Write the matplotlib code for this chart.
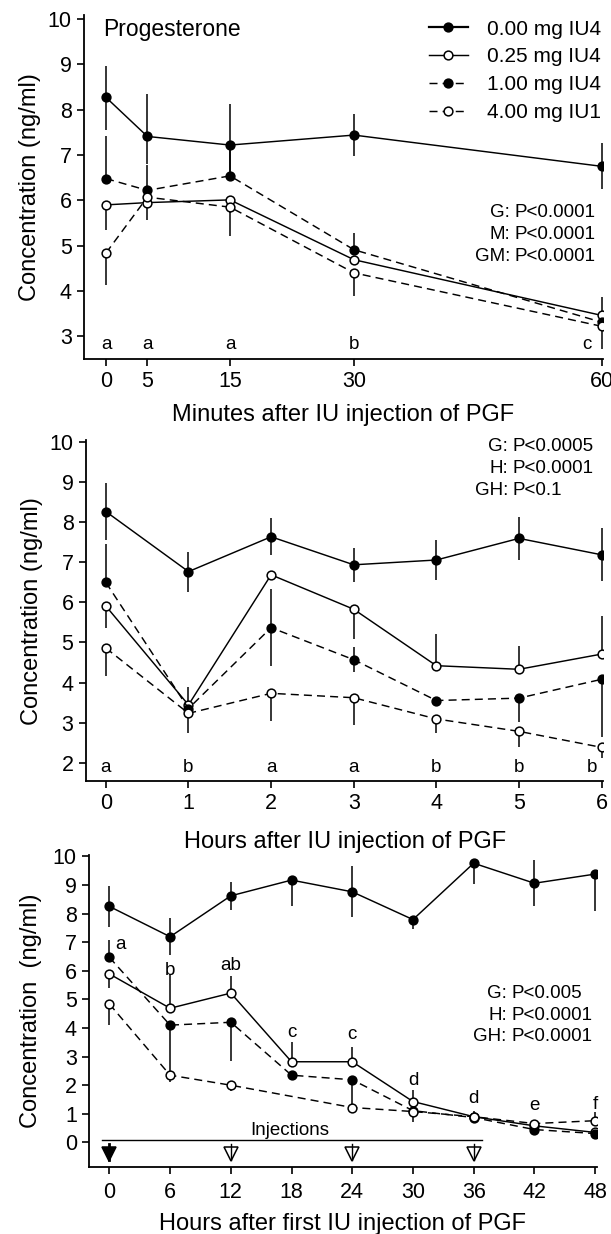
import numpy as np
import matplotlib
matplotlib.use("Agg")
import matplotlib.pyplot as plt
from matplotlib.lines import Line2D

plt.rcParams['font.family'] = ['Liberation Sans', 'DejaVu Sans']

# ---- data: panel 1 (minutes) ----
min_x = [0, 5, 15, 30, 60]
min_mg000 = [8.27, 7.41, 7.22, 7.44, 6.75]
min_mg000_lo = [0.72, 0.60, 0.70, 0.46, 0.51]
min_mg000_hi = [0.70, 0.93, 0.91, 0.46, 0.51]
min_mg025 = [5.90, 5.95, 6.01, 4.69, 3.46]
min_mg025_lo = [0.55, 0.38, 0.30, 0.0, 0.0]
min_mg025_hi = [0.0, 0.0, 0.0, 0.0, 0.40]
min_mg100 = [6.48, 6.22, 6.54, 4.91, 3.31]
min_mg100_lo = [0.0, 0.0, 0.0, 0.0, 0.0]
min_mg100_hi = [0.93, 0.55, 0.70, 0.37, 0.0]
min_mg400 = [4.84, 6.07, 5.85, 4.40, 3.22]
min_mg400_lo = [0.70, 0.0, 0.64, 0.52, 0.50]
min_mg400_hi = [0.0, 0.0, 0.0, 0.0, 0.0]
min_letters = ['a', 'a', 'a', 'b', 'c']

# ---- data: panel 2 (hours) ----
hr_x = [0, 1, 2, 3, 4, 5, 6]
hr_mg000 = [8.27, 6.77, 7.64, 6.94, 7.06, 7.60, 7.19]
hr_mg000_lo = [0.72, 0.50, 0.46, 0.42, 0.50, 0.54, 0.66]
hr_mg000_hi = [0.72, 0.50, 0.46, 0.42, 0.50, 0.54, 0.66]
hr_mg025 = [5.91, 3.44, 6.69, 5.83, 4.42, 4.33, 4.71]
hr_mg025_lo = [0.55, 0.0, 0.0, 0.75, 0.0, 0.0, 0.0]
hr_mg025_hi = [0.0, 0.45, 0.0, 0.0, 0.80, 0.58, 0.95]
hr_mg100 = [6.50, 3.35, 5.37, 4.57, 3.55, 3.61, 4.08]
hr_mg100_lo = [0.0, 0.0, 0.97, 0.31, 0.0, 0.60, 1.45]
hr_mg100_hi = [0.95, 0.0, 0.97, 0.31, 0.0, 0.0, 0.0]
hr_mg400 = [4.86, 3.23, 3.73, 3.62, 3.09, 2.78, 2.38]
hr_mg400_lo = [0.70, 0.50, 0.70, 0.68, 0.36, 0.38, 0.27]
hr_mg400_hi = [0.0, 0.0, 0.0, 0.0, 0.0, 0.0, 0.0]
hr_letters = ['a', 'b', 'a', 'a', 'b', 'b', 'b']

# ---- data: panel 3 (hours after first injection) ----
h48_x = [0, 6, 12, 18, 24, 30, 36, 42, 48]
h48_mg000 = [8.25, 7.19, 8.62, 9.17, 8.76, 7.79, 9.76, 9.06, 9.38]
h48_mg000_lo = [0.72, 0.64, 0.50, 0.90, 0.89, 0.33, 0.73, 0.80, 1.28]
h48_mg000_hi = [0.72, 0.64, 0.50, 0.0, 0.89, 0.0, 0.0, 0.80, 0.0]
h48_mg025 = [5.89, 4.69, 5.22, 2.82, 2.82, 1.43, 0.90, 0.58, 0.35]
h48_mg025_lo = [0.50, 0.0, 0.0, 0.0, 0.0, 0.0, 0.0, 0.0, 0.0]
h48_mg025_hi = [0.0, 1.20, 0.60, 0.68, 0.50, 0.40, 0.20, 0.0, 0.0]
h48_mg100 = [6.47, 4.10, 4.20, 2.35, 2.19, 1.11, 0.87, 0.45, 0.31]
h48_mg100_lo = [0.0, 1.65, 1.34, 0.0, 0.97, 0.39, 0.0, 0.0, 0.0]
h48_mg100_hi = [0.60, 0.0, 0.0, 0.0, 0.0, 0.0, 0.0, 0.0, 0.0]
h48_x_mg400 = [0, 6, 12, 24, 30, 36, 42, 48]
h48_mg400 = [4.84, 2.35, 2.00, 1.22, 1.08, 0.90, 0.66, 0.76]
h48_mg400_lo = [0.73, 0.25, 0.20, 0.0, 0.0, 0.20, 0.0, 0.0]
h48_mg400_hi = [0.0, 0.0, 0.0, 0.0, 0.0, 0.0, 0.0, 0.30]
h48_letters = ['a', 'b', 'ab', 'c', 'c', 'd', 'd', 'e', 'f']
h48_letter_y = [6.93, 6.00, 6.17, 3.85, 3.76, 2.15, 1.55, 1.28, 1.34]
h48_letter_x = [1.1, 6, 12, 18, 24, 30, 36, 42, 48]
injection_x = [0, 12, 24, 36]

labels = ['0.00 mg IU4', '0.25 mg IU4', '1.00 mg IU4', '4.00 mg IU1']
filled = [True, False, True, False]
dashed = [False, False, True, True]

DASH = (5.5, 3.5)
MS = 6.3
LW = 1.05


def draw_series(ax, x, y, lo, hi, is_filled, is_dashed, z):
    ax.errorbar(x, y, yerr=[lo, hi], fmt='none', ecolor='black',
                elinewidth=1.1, capsize=0, zorder=1)
    ln, = ax.plot(x, y, color='black', lw=LW, zorder=2 + z,
                  marker='o', ms=MS, mec='black', mew=1.1,
                  mfc='black' if is_filled else 'white')
    if is_dashed:
        ln.set_dashes(DASH)


def style_axes(ax):
    for s in ['top', 'right']:
        ax.spines[s].set_visible(False)
    for s in ['left', 'bottom']:
        ax.spines[s].set_linewidth(1.3)
    ax.tick_params(direction='out', length=5, width=1.2, labelsize=15.5, pad=4)


def p_text(ax, rows, x_colon, ys):
    for (lab, val), yy in zip(rows, ys):
        ax.text(x_colon, yy, lab, ha='right', va='center', fontsize=13.5,
                transform=ax.transAxes)
        ax.text(x_colon + 0.009, yy, val, ha='left', va='center', fontsize=13.5,
                transform=ax.transAxes)


fig = plt.figure(figsize=(6.11, 12.34), dpi=100)

# ---------------- panel 1 ----------------
ax1 = fig.add_axes([0.138, 0.7091, 0.8484, 0.2784])
data1 = [(min_mg000, min_mg000_lo, min_mg000_hi),
         (min_mg025, min_mg025_lo, min_mg025_hi),
         (min_mg100, min_mg100_lo, min_mg100_hi),
         (min_mg400, min_mg400_lo, min_mg400_hi)]
for i, (y, lo, hi) in enumerate(data1):
    draw_series(ax1, min_x, y, lo, hi, filled[i], dashed[i], i * 0.1)
ax1.set_xlim(-2.63, 60.1)
ax1.set_ylim(2.5, 10.08)
ax1.set_xticks(min_x)
ax1.set_yticks(range(3, 11))
style_axes(ax1)
ax1.set_xlabel('Minutes after IU injection of PGF', fontsize=17, labelpad=8)
ax1.set_ylabel('Concentration (ng/ml)', fontsize=17, labelpad=5)
for xx, lt in zip(min_x, min_letters):
    ax1.text(xx - (1.8 if xx == 60 else 0), 2.82, lt, ha='center', va='center', fontsize=13.5)
ax1.text(0.036, 0.96, 'Progesterone', transform=ax1.transAxes, fontsize=16.5,
         ha='left', va='center')

handles = []
for i in range(4):
    h = Line2D([], [], color='black', lw=1.6 if i == 0 else LW, marker='o', ms=MS,
               mec='black', mew=1.1, mfc='black' if filled[i] else 'white')
    if dashed[i]:
        h.set_dashes(DASH)
    handles.append(h)
ax1.legend(handles, labels, loc='upper right', bbox_to_anchor=(1.025, 1.03),
           frameon=False, fontsize=15, handlelength=1.9, handletextpad=0.9,
           labelspacing=0.42, borderpad=0.2, numpoints=1)
p_text(ax1, [('G:', 'P<0.0001'), ('M:', 'P<0.0001'), ('GM:', 'P<0.0001')],
       0.821, [0.425, 0.361, 0.297])

# ---------------- panel 2 ----------------
ax2 = fig.add_axes([0.1408, 0.3671, 0.8465, 0.2761])
data2 = [(hr_mg000, hr_mg000_lo, hr_mg000_hi),
         (hr_mg025, hr_mg025_lo, hr_mg025_hi),
         (hr_mg100, hr_mg100_lo, hr_mg100_hi),
         (hr_mg400, hr_mg400_lo, hr_mg400_hi)]
for i, (y, lo, hi) in enumerate(data2):
    draw_series(ax2, hr_x, y, lo, hi, filled[i], dashed[i], i * 0.1)
ax2.set_xlim(-0.24, 6.02)
ax2.set_ylim(1.54, 10.05)
ax2.set_xticks(hr_x)
ax2.set_yticks(range(2, 11))
style_axes(ax2)
ax2.set_xlabel('Hours after IU injection of PGF', fontsize=17, labelpad=12)
ax2.set_ylabel('Concentration (ng/ml)', fontsize=17, labelpad=5)
for xx, lt in zip(hr_x, hr_letters):
    ax2.text(xx - (0.12 if xx == 6 else 0), 1.87, lt, ha='center', va='center', fontsize=13.5)
p_text(ax2, [('G:', 'P<0.0005'), ('H:', 'P<0.0001'), ('GH:', 'P<0.1')],
       0.816, [0.981, 0.918, 0.854])

# ---------------- panel 3 ----------------
ax3 = fig.add_axes([0.1462, 0.0545, 0.8303, 0.2527])
data3 = [(h48_x, h48_mg000, h48_mg000_lo, h48_mg000_hi),
         (h48_x, h48_mg025, h48_mg025_lo, h48_mg025_hi),
         (h48_x, h48_mg100, h48_mg100_lo, h48_mg100_hi),
         (h48_x_mg400, h48_mg400, h48_mg400_lo, h48_mg400_hi)]
for i, (x, y, lo, hi) in enumerate(data3):
    draw_series(ax3, x, y, lo, hi, filled[i], dashed[i], i * 0.1)
ax3.set_xlim(-1.98, 48.15)
ax3.set_ylim(-0.85, 10.05)
ax3.set_xticks(h48_x)
ax3.set_yticks(range(0, 11))
style_axes(ax3)
ax3.tick_params(axis='x', pad=6)
ax3.set_xlabel('Hours after first IU injection of PGF', fontsize=17, labelpad=7)
ax3.set_ylabel('Concentration  (ng/ml)', fontsize=17, labelpad=8)
for xx, yy, lt in zip(h48_letter_x, h48_letter_y, h48_letters):
    ax3.text(xx, yy, lt, ha='center', va='center', fontsize=13.5)
p_text(ax3, [('G:', 'P<0.005'), ('H:', 'P<0.0001'), ('GH:', 'P<0.0001')],
       0.823, [0.554, 0.485, 0.417])

# injection bar and arrows
ax3.plot([-0.75, 36.8], [0.09, 0.09], color='black', lw=1.0, zorder=3)
ax3.text(17.8, 0.40, 'Injections', ha='center', va='center', fontsize=13.5)
for k, xx in enumerate(injection_x):
    ax3.plot([xx], [-0.40], marker='v', ms=10.5, mec='black', mew=1.1,
             mfc='black' if k == 0 else 'white', zorder=3, clip_on=False)
    ax3.plot([xx, xx], [-0.06, -0.62], color='black',
             lw=2.0 if k == 0 else 1.0, zorder=4)

fig.savefig('out.png', dpi=100)
